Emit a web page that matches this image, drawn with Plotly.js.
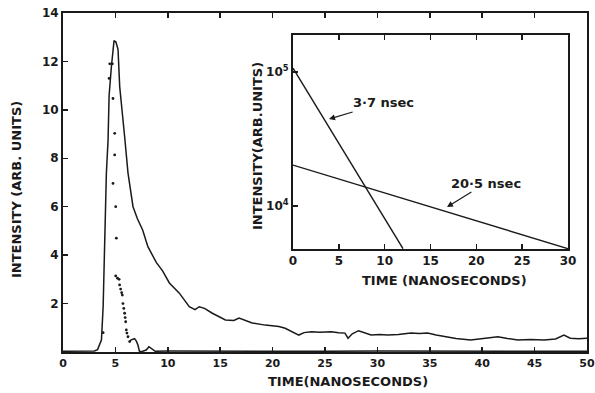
<!DOCTYPE html>
<html><head><meta charset="utf-8">
<script src="https://cdn.plot.ly/plotly-3.0.1.min.js"></script>
<style>html,body{margin:0;padding:0;background:#fff}#c{width:595px;height:393px}</style>
</head><body><div id="c"></div>
<script>
// Main decay curve (solid)
const mainT = [0, 2, 3.0, 3.3, 3.5, 3.67, 3.83, 3.98, 4.14, 4.3, 4.4, 4.62, 4.87, 5.05, 5.25, 5.41, 5.66, 5.88, 6.2, 6.68, 7.1, 7.6, 8.1, 8.9, 9.5, 10.15, 11.1, 12.05, 12.6, 13.0, 13.5, 14.25, 15.5, 16.3, 16.8, 17.4, 18.05, 19.3, 20.6, 21.2, 21.8, 22.5, 23.0, 23.7, 24.5, 25.6, 26.3, 26.9, 27.2, 27.6, 28.2, 28.8, 29.4, 30.2, 31, 32, 33.2, 34.0, 34.8, 35.6, 36.4, 37.5, 38.9, 40.2, 41.5, 42.4, 43.4, 44.6, 45.9, 47.0, 47.8, 48.4, 49.2, 50];
const mainI = [0.03, 0.03, 0.04, 0.1, 0.3, 0.5, 1.87, 4.6, 7.4, 8.75, 10.6, 11.8, 12.86, 12.8, 12.5, 10.96, 10.0, 8.9, 7.4, 6.0, 5.5, 5.04, 4.35, 3.7, 3.35, 2.85, 2.43, 1.87, 1.75, 1.87, 1.8, 1.6, 1.32, 1.3, 1.4, 1.3, 1.2, 1.11, 1.05, 0.98, 0.84, 0.70, 0.80, 0.84, 0.82, 0.84, 0.80, 0.78, 0.57, 0.75, 0.88, 0.78, 0.70, 0.72, 0.70, 0.72, 0.78, 0.76, 0.78, 0.70, 0.63, 0.56, 0.50, 0.55, 0.63, 0.56, 0.50, 0.52, 0.50, 0.54, 0.70, 0.57, 0.55, 0.57];
// Dotted (excitation pulse) points
const dotT = [3.83, 4.4, 4.46, 4.71, 4.77, 4.93, 4.93, 4.77, 5.03, 5.09, 5.03, 5.2, 5.35, 5.4, 5.5, 5.6, 5.66, 5.72, 5.8, 5.88, 5.93, 5.98, 6.04, 6.1, 6.2, 6.36];
const dotI = [0.8, 11.3, 11.9, 11.9, 10.47, 9.03, 8.14, 6.96, 6.0, 4.7, 3.14, 3.05, 3.0, 2.77, 2.6, 2.45, 2.35, 2.0, 1.8, 1.6, 1.42, 1.25, 0.91, 0.78, 0.63, 0.43];
// Low tail after the pulse (solid)
const lowT = [6.36, 6.5, 6.83, 7.0, 7.15, 7.3, 7.6, 7.94, 8.2, 8.57, 8.8, 10, 15, 20, 25, 30, 35, 40, 45, 50];
const lowI = [0.43, 0.5, 0.55, 0.45, 0.29, 0.02, 0.03, 0.08, 0.22, 0.08, 0.03, 0.04, 0.03, 0.05, 0.03, 0.04, 0.03, 0.04, 0.03, 0.03];
// Inset: log-scale decay components
const fastT = [0, 12];
const fastI = [1.07e5, 4.8e3];
const slowT = [0, 30];
const slowI = [2.02e4, 4.8e3];
const mainXTicks = [0,5,10,15,20,25,30,35,40,45,50];
const mainYTicks = [2,4,6,8,10,12,14];
const insetXTicks = [0,5,10,15,20,25,30];
const insetYTicks = [1e4, 1e5];
const insetYText = ['10<sup>4</sup>', '10<sup>5</sup>'];

const ink = '#1a1a1a';
const F = {family: 'DejaVu Sans', size: 12, color: ink, weight: 'bold'};
const FX = {family: 'DejaVu Sans', size: 11, color: ink, weight: 'bold'};
const FT = {family: 'DejaVu Sans', size: 13, color: ink, weight: 'bold'};
// pixel -> paper helpers (plot area: x 63..587, y 13..352)
const px = x => (x - 63) / 524;
const py = y => (352 - y) / 339;

const traces = [
  {x: mainT, y: mainI, mode: 'lines', line: {color: ink, width: 1.5}, xaxis: 'x', yaxis: 'y'},
  {x: lowT, y: lowI, mode: 'lines', line: {color: ink, width: 1.5}, xaxis: 'x', yaxis: 'y'},
  {x: dotT, y: dotI, mode: 'markers', marker: {color: ink, size: 2.8}, xaxis: 'x', yaxis: 'y'},
  {x: fastT, y: fastI, mode: 'lines', line: {color: ink, width: 1.4}, xaxis: 'x2', yaxis: 'y2'},
  {x: slowT, y: slowI, mode: 'lines', line: {color: ink, width: 1.4}, xaxis: 'x2', yaxis: 'y2'}
];

const ax = {showgrid: false, zeroline: false, showline: true, linecolor: ink, linewidth: 2,
  ticks: 'inside', ticklen: 5, tickcolor: ink, tickwidth: 1.5, tickfont: F, ticklabeloverflow: 'allow'};

const C = {xref: 'paper', yref: 'paper', xanchor: 'center', yanchor: 'middle'};
const layout = {
  width: 595, height: 393, showlegend: false,
  margin: {l: 63, r: 8, t: 13, b: 41},
  paper_bgcolor: '#fff', plot_bgcolor: 'rgba(0,0,0,0)',
  font: F,
  xaxis: Object.assign({}, ax, {range: [0, 50], tickvals: mainXTicks, mirror: 'ticks', domain: [0, 1], tickfont: FX}),
  yaxis: Object.assign({}, ax, {range: [0, 14], tickvals: mainYTicks, mirror: true, domain: [0, 1]}),
  xaxis2: Object.assign({}, ax, {range: [0, 30], tickvals: insetXTicks, mirror: 'ticks',
    domain: [px(293), px(568)], anchor: 'y2'}),
  yaxis2: Object.assign({}, ax, {type: 'log', range: [3.679, 5.276], tickvals: insetYTicks, ticktext: insetYText,
    mirror: true, domain: [py(249), py(35)], anchor: 'x2'}),
  annotations: [
    Object.assign({text: 'TIME(NANOSECONDS)', x: px(348), y: py(381), showarrow: false, font: FT}, C),
    Object.assign({text: 'INTENSITY (ARB. UNITS)', x: px(17), y: py(190), textangle: -90, showarrow: false, font: FT}, C),
    Object.assign({text: 'TIME (NANOSECONDS)', x: px(444), y: py(280), showarrow: false, font: FT}, C),
    Object.assign({text: 'INTENSITY(ARB.UNITS)', x: px(257), y: py(146), textangle: -90, showarrow: false, font: FT}, C),
    Object.assign({text: '3·7 nsec', x: px(329), y: py(119), ax: 54, ay: -16, showarrow: true,
      arrowhead: 2, arrowsize: 1, arrowwidth: 1.2, arrowcolor: ink, font: FT}, C),
    Object.assign({text: '20·5 nsec', x: px(447), y: py(207), ax: 39, ay: -24, showarrow: true,
      arrowhead: 2, arrowsize: 1, arrowwidth: 1.2, arrowcolor: ink, font: FT}, C)
  ]
};
Plotly.newPlot('c', traces, layout, {displayModeBar: false, staticPlot: true});
</script>
</body></html>
